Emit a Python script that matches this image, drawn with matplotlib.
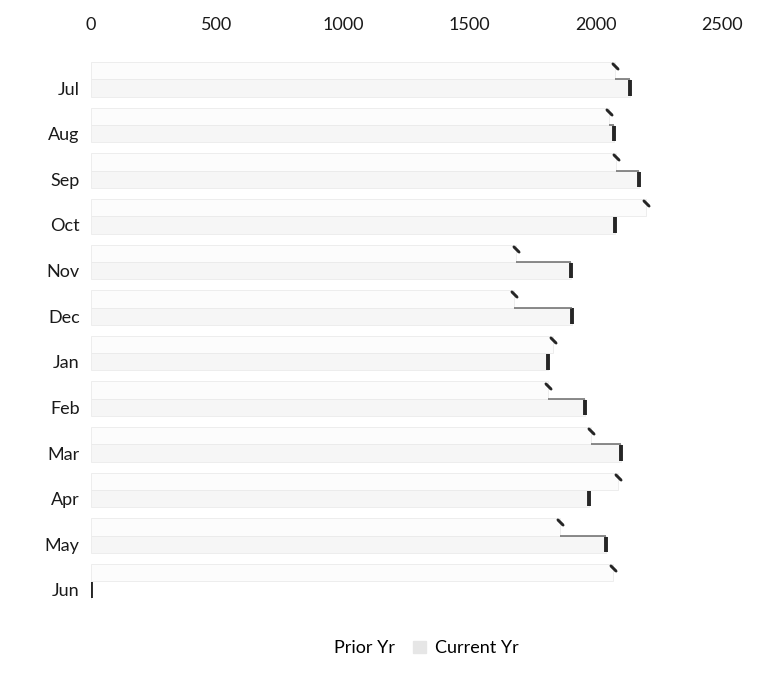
import matplotlib
matplotlib.use("Agg")
import matplotlib.pyplot as plt
from matplotlib.patches import Patch

plt.rcParams['font.family'] = ['Lato', 'DejaVu Sans']

months = ["Jul", "Aug", "Sep", "Oct", "Nov", "Dec", "Jan", "Feb", "Mar", "Apr", "May", "Jun"]
prior_yr = [2077, 2053, 2081, 2201, 1683, 1675, 1830, 1810, 1982, 2089, 1858, 2069]
current_yr = [2137, 2073, 2173, 2077, 1902, 1906, 1810, 1958, 2101, 1974, 2041, 0]
x_ticks = [0, 500, 1000, 1500, 2000, 2500]

fig = plt.figure(figsize=(7.63, 6.83), dpi=100)
ax = fig.add_axes([0.119, 0.0996, 0.827, 0.8272])

pos = list(range(len(months)))
h = 0.38
prior_pos = [p - h for p in pos]

prior_face = "#fcfcfc"
current_face = "#f6f6f6"
edge = "#ebebeb"
dark = "#262626"

ax.barh(prior_pos, prior_yr, height=h, color=prior_face, edgecolor=edge, linewidth=0.6)
ax.barh(pos, current_yr, height=h, color=current_face, edgecolor=edge, linewidth=0.6)

# Dark right-hand end of each current-year bar
ax.vlines(current_yr, [p - 0.17 for p in pos], [p + 0.17 for p in pos],
          color=dark, linewidth=2.8)
# Top edge of current-year bar where it runs past the prior-year bar
for p, a, b in zip(pos, prior_yr, current_yr):
    if b > a:
        ax.hlines(p - h / 2, a, b, color="#6a6a6a", linewidth=1.1)
# Small end mark on prior-year bars
ax.scatter(prior_yr, [p - 0.1 for p in prior_pos], marker=(2, 2, 45), s=28,
           color=dark, linewidths=1.8, zorder=3)

ax.set_xlim(0, 2500)
ax.set_ylim(11.548, -0.833)
ax.set_xticks(x_ticks)
ax.set_xticklabels([str(t) for t in x_ticks])
ax.xaxis.tick_top()
ax.set_yticks(pos)
ax.set_yticklabels(months)
ax.tick_params(axis="both", length=0, labelsize=13, colors="#1a1a1a")
ax.tick_params(axis="x", pad=12)
ax.tick_params(axis="y", pad=8)
for s in ax.spines.values():
    s.set_visible(False)

handles = [Patch(facecolor="white", edgecolor="white"),
           Patch(facecolor="#e6e6e6", edgecolor="#e6e6e6")]
fig.legend(handles, ["Prior Yr", "Current Yr"], loc="center",
           bbox_to_anchor=(0.545, 0.051), ncol=2, frameon=False, fontsize=13,
           handlelength=0.7, handleheight=0.7, handletextpad=0.5, columnspacing=1.0)

fig.savefig("out.png", dpi=100, facecolor="white")
